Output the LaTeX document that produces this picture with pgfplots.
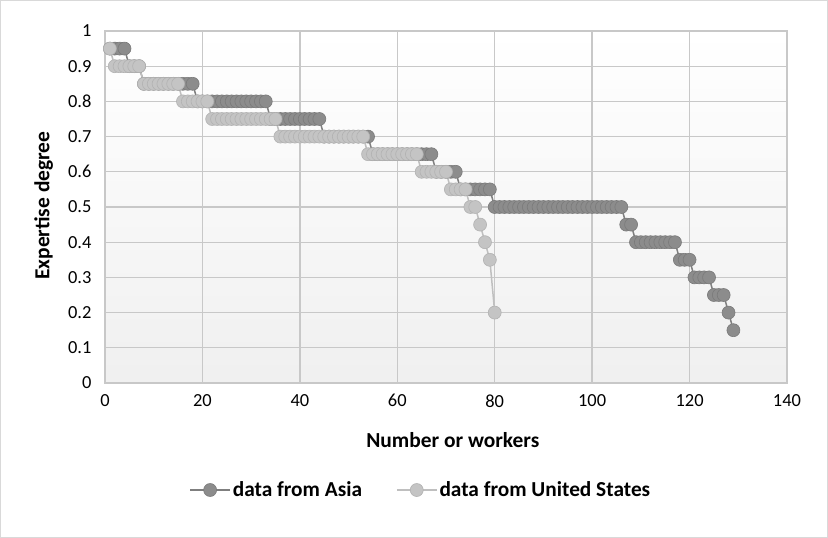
\documentclass[border=0pt]{standalone}
\usepackage{fontspec}
\setmainfont{Carlito}
\usepackage{pgfplots}
\pgfplotsset{compat=1.18}
\definecolor{gridc}{HTML}{C8C8C8}
\definecolor{asiaL}{HTML}{7F7F7F}
\definecolor{asiaF}{HTML}{8C8C8C}
\definecolor{asiaD}{HTML}{7A7A7A}
\definecolor{usL}{HTML}{BFBFBF}
\definecolor{usF}{HTML}{C4C4C4}
\definecolor{usD}{HTML}{B2B2B2}
\definecolor{frame}{HTML}{D9D9D9}
\begin{document}
\begin{tikzpicture}
\path[use as bounding box] (0,0) rectangle (828bp,538bp);
\draw[frame, line width=1bp] (0.5bp,0.5bp) rectangle (827.5bp,537.5bp);
\begin{axis}[
  at={(105bp,155bp)}, anchor=south west,
  scale only axis, width=682bp, height=352bp,
  xmin=0, xmax=140, ymin=0, ymax=1,
  xtick={0,20,...,140}, ytick={0,0.1,...,1.01},
  yticklabels={0,0.1,0.2,0.3,0.4,0.5,0.6,0.7,0.8,0.9,1},
  major tick length=0,
  grid=major,
  grid style={gridc, line width=1.3bp},
  axis line style={gridc, line width=1.3bp},
  axis background/.style={top color=white, bottom color=black!6},
  /pgf/number format/assume math mode=true,
  tick label style={font=\fontsize{18.5}{21}\selectfont, text=black},
  yticklabel style={xshift=-10bp},
  xticklabel style={yshift=-8bp},
  xlabel={Number or workers},
  ylabel={Expertise degree},
  label style={font=\fontsize{21.5}{24}\bfseries},
  xlabel style={at={(axis description cs:0.51,-0.162)}, anchor=center},
  ylabel style={at={(axis description cs:-0.09,0.504)}, anchor=center},
  legend columns=2,
  legend style={at={(axis description cs:0.463,-0.304)}, anchor=center, draw=none, fill=none,
    font=\fontsize{21.4}{24}\bfseries, /tikz/every even column/.append style={column sep=32bp}},
  legend cell align=left,
  legend image code/.code={\draw[mark repeat=2,mark phase=2,#1] plot coordinates {(0bp,0bp)(20bp,0bp)(40bp,0bp)};},
]
\addplot[asiaL, line width=1.5bp, mark=*, mark size=6.5bp, mark options={fill=asiaF, draw=asiaD, line width=0.6bp}] coordinates {
(1,0.95)(2,0.95)(3,0.95)(4,0.95)
(5,0.9)(6,0.9)(7,0.9)
(8,0.85)(9,0.85)(10,0.85)(11,0.85)(12,0.85)(13,0.85)(14,0.85)(15,0.85)(16,0.85)(17,0.85)(18,0.85)
(19,0.8)(20,0.8)(21,0.8)(22,0.8)(23,0.8)(24,0.8)(25,0.8)(26,0.8)(27,0.8)(28,0.8)(29,0.8)(30,0.8)(31,0.8)(32,0.8)(33,0.8)
(34,0.75)(35,0.75)(36,0.75)(37,0.75)(38,0.75)(39,0.75)(40,0.75)(41,0.75)(42,0.75)(43,0.75)(44,0.75)
(45,0.7)(46,0.7)(47,0.7)(48,0.7)(49,0.7)(50,0.7)(51,0.7)(52,0.7)(53,0.7)(54,0.7)
(55,0.65)(56,0.65)(57,0.65)(58,0.65)(59,0.65)(60,0.65)(61,0.65)(62,0.65)(63,0.65)(64,0.65)(65,0.65)(66,0.65)(67,0.65)
(68,0.6)(69,0.6)(70,0.6)(71,0.6)(72,0.6)
(73,0.55)(74,0.55)(75,0.55)(76,0.55)(77,0.55)(78,0.55)(79,0.55)
(80,0.5)(81,0.5)(82,0.5)(83,0.5)(84,0.5)(85,0.5)(86,0.5)(87,0.5)(88,0.5)(89,0.5)(90,0.5)(91,0.5)(92,0.5)(93,0.5)(94,0.5)(95,0.5)(96,0.5)(97,0.5)(98,0.5)(99,0.5)(100,0.5)(101,0.5)(102,0.5)(103,0.5)(104,0.5)(105,0.5)(106,0.5)
(107,0.45)(108,0.45)
(109,0.4)(110,0.4)(111,0.4)(112,0.4)(113,0.4)(114,0.4)(115,0.4)(116,0.4)(117,0.4)
(118,0.35)(119,0.35)(120,0.35)
(121,0.3)(122,0.3)(123,0.3)(124,0.3)
(125,0.25)(126,0.25)(127,0.25)
(128,0.2)
(129,0.15)
};
\addlegendentry{data from Asia}
\addplot[usL, line width=1.5bp, mark=*, mark size=6.5bp, mark options={fill=usF, draw=usD, line width=0.6bp}] coordinates {
(1,0.95)
(2,0.9)(3,0.9)(4,0.9)(5,0.9)(6,0.9)(7,0.9)
(8,0.85)(9,0.85)(10,0.85)(11,0.85)(12,0.85)(13,0.85)(14,0.85)(15,0.85)
(16,0.8)(17,0.8)(18,0.8)(19,0.8)(20,0.8)(21,0.8)
(22,0.75)(23,0.75)(24,0.75)(25,0.75)(26,0.75)(27,0.75)(28,0.75)(29,0.75)(30,0.75)(31,0.75)(32,0.75)(33,0.75)(34,0.75)(35,0.75)
(36,0.7)(37,0.7)(38,0.7)(39,0.7)(40,0.7)(41,0.7)(42,0.7)(43,0.7)(44,0.7)(45,0.7)(46,0.7)(47,0.7)(48,0.7)(49,0.7)(50,0.7)(51,0.7)(52,0.7)(53,0.7)
(54,0.65)(55,0.65)(56,0.65)(57,0.65)(58,0.65)(59,0.65)(60,0.65)(61,0.65)(62,0.65)(63,0.65)(64,0.65)
(65,0.6)(66,0.6)(67,0.6)(68,0.6)(69,0.6)(70,0.6)
(71,0.55)(72,0.55)(73,0.55)(74,0.55)
(75,0.5)(76,0.5)
(77,0.45)
(78,0.4)
(79,0.35)
(80,0.2)
};
\addlegendentry{data from United States}
\end{axis}
\end{tikzpicture}
\end{document}
